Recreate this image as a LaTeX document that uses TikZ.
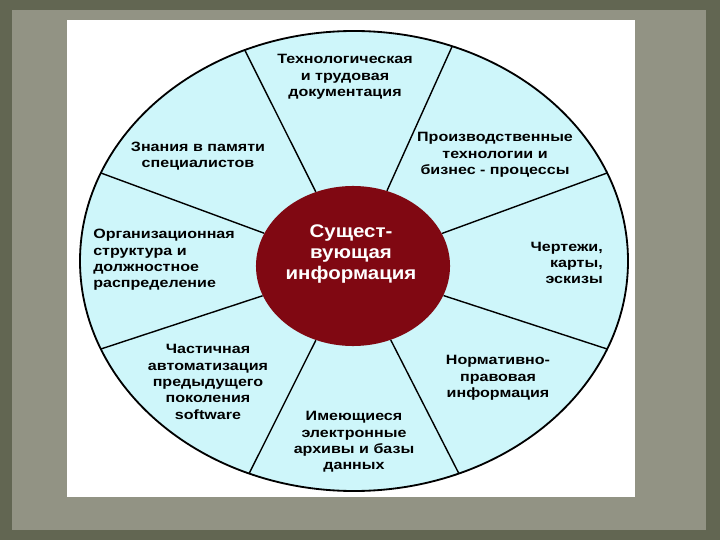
\documentclass[tikz,border=0pt]{standalone}
\usepackage{fontspec}
\setmainfont{Liberation Sans}[FakeStretch=1.12]
\newfontfamily\segfont{Liberation Sans}[FakeStretch=1.19]
\usetikzlibrary{shapes.geometric}

\definecolor{olive}{RGB}{98,102,82}
\definecolor{paper}{RGB}{146,147,132}
\definecolor{pale}{RGB}{206,246,250}
\definecolor{wine}{RGB}{128,8,18}

\begin{document}
\begin{tikzpicture}[x=0.025cm,y=0.025cm]
\tikzstyle{every node}=[inner sep=0pt, align=center]
\tikzstyle{seg}=[font=\segfont\bfseries\fontsize{9.6}{11.6}\selectfont]
\tikzstyle{spoke}=[line width=1pt]
% slide background
\fill[olive] (0,0) rectangle (720,540);
\fill[paper] (12,10) rectangle (706,530);
\fill[white] (67,43) rectangle (635,520);
% wheel
\draw[line width=1.3pt, fill=pale] (354,279) ellipse (274 and 230);
\node (core) [ellipse, fill=wine, minimum width=4.85cm, minimum height=4cm] at (353,274) {};
\foreach \a [count=\i] in {22.5,69,113.5,157.5,202.5,247.5,292.5,337.5}
  \coordinate (o\i) at ([shift={(354,279)}]\a:274 and 230);
\foreach \i in {1,...,8}
  \draw[spoke] (o\i) -- (core);
\node (coretext) [text=white, font=\bfseries\fontsize{13}{14.9}\selectfont] at (351,286) {Сущест-\\вующая\\информация};
% sectors
\node (docs) [seg] at (345,463) {Технологическая\\и трудовая\\документация};
\node (prod) [seg] at (495,385) {Производственные\\технологии и\\бизнес - процессы};
\node (drawings) [seg, anchor=east, align=right] at (603,277) {Чертежи,\\карты,\\эскизы};
\node (norms) [seg] at (498,162) {Нормативно-\\правовая\\информация};
\node (archives) [seg] at (354,98) {Имеющиеся\\электронные\\архивы и базы\\данных};
\node (legacy) [seg] at (208,158) {Частичная\\автоматизация\\предыдущего\\поколения\\software};
\node (orgs) [seg, anchor=west, align=left] at (93,280) {Организационная\\структура и\\должностное\\распределение};
\node (experts) [seg] at (198,384) {Знания в памяти\\специалистов};
\end{tikzpicture}
\end{document}
